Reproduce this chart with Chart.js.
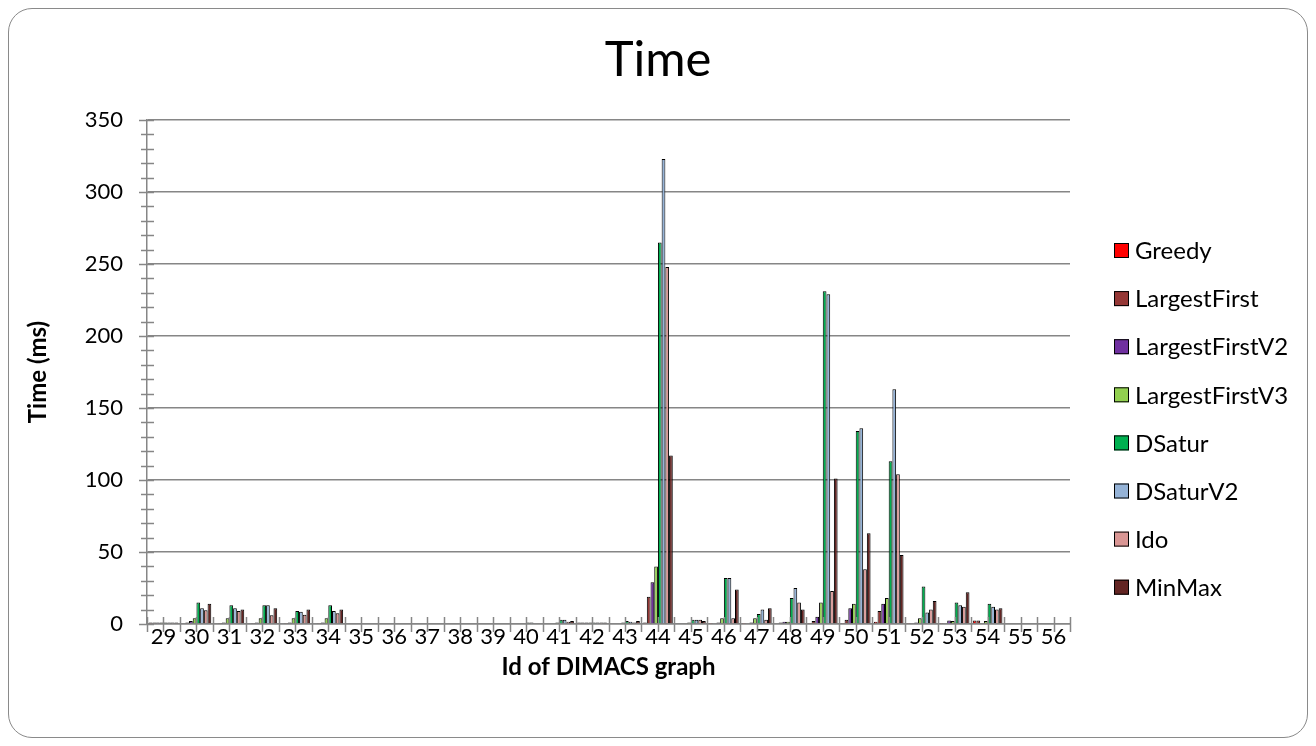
<!DOCTYPE html>
<html>
<head>
<meta charset="utf-8">
<title>Time</title>
<script src="https://cdn.jsdelivr.net/npm/chart.js@4.4.1/dist/chart.umd.min.js"></script>
<style>
    html, body { margin: 0; padding: 0; background: #fff; }
    body { width: 1316px; height: 746px; position: relative; overflow: hidden; }
    .frame {
        position: absolute; left: 8px; top: 8px; width: 1298px; height: 728px;
        border: 1.5px solid #8a8a8a; border-radius: 24px; background: #fff;
    }
    #timeChart { position: absolute; left: 0; top: 0; }
</style>
</head>
<body>
<div class="frame"></div>
<canvas id="timeChart" width="1316" height="746"></canvas>
<script>
// DIMACS graph ids (x categories)
const graphIds = [29, 30, 31, 32, 33, 34, 35, 36, 37, 38, 39, 40, 41, 42,
                  43, 44, 45, 46, 47, 48, 49, 50, 51, 52, 53, 54, 55, 56];

// running time per algorithm, ms
const greedy         = [1, 0.5, 0.5, 0.5, 0.5, 0.5, 0, 0, 0, 0, 0, 0, 0, 1, 0, 1, 0.5, 0.3, 0.3, 0.5, 0.3, 0.3, 1.5, 0.3, 0.3, 2.5, 0, 0];
const largestFirst   = [1, 1, 0.7, 0.7, 0.7, 0.7, 0, 0, 0, 0, 0, 0, 0.5, 1, 0.5, 19, 0.5, 0.5, 0.5, 1, 2, 3, 9, 0.5, 0.5, 2.5, 0, 0];
const largestFirstV2 = [1, 2, 1, 1, 1, 1, 0, 0, 0, 0, 0, 0, 0.5, 1, 0.5, 29, 0.5, 1, 1, 1.5, 5, 11, 14, 1, 2.5, 0.5, 0, 0];
const largestFirstV3 = [1, 4, 4, 4, 4, 4, 0, 0, 0, 0, 0, 0, 1, 1, 1, 40, 1, 4, 4, 1.5, 15, 14, 18, 4, 2, 2, 0, 0];
const dsatur         = [1, 15, 13, 13, 9, 13, 0, 0, 0, 0, 0, 1, 3, 1, 2, 265, 3, 32, 7, 18, 231, 134, 113, 26, 15, 14, 0, 0];
const dsaturV2       = [1, 11, 11, 13, 8.5, 9, 0, 0, 0, 0, 0, 1, 3, 1, 1.5, 323, 3, 32, 10, 25, 229, 136, 163, 8, 13, 12, 0, 0];
const ido            = [1, 9.5, 9, 6, 6.5, 7.5, 0, 0, 0, 0, 0, 0, 1.5, 1, 1, 248, 3, 4, 3, 15, 23, 38, 104, 10, 12, 10, 0, 0];
const minMax         = [1, 14, 10, 11, 10, 10, 0, 0, 0, 0, 0, 0, 2, 1, 2, 117, 2, 24, 11, 10, 101, 63, 48, 16, 22, 11, 0, 0];

const seriesNames  = ['Greedy', 'LargestFirst', 'LargestFirstV2', 'LargestFirstV3', 'DSatur', 'DSaturV2', 'Ido', 'MinMax'];
const seriesValues = [greedy, largestFirst, largestFirstV2, largestFirstV3, dsatur, dsaturV2, ido, minMax];
const seriesColors = ['#FF0000', '#953735', '#7030A0', '#92D050', '#00B050', '#95B3D7', '#DA9694', '#632523'];

const FONT = "Lato, 'Open Sans', sans-serif";
const AXIS_GREY = '#868686';

// tick marks crossing both axes (major + minor on y, half-category on x)
const crossTicks = {
    id: 'crossTicks',
    afterDatasetsDraw(chart) {
        const { ctx, scales: { x, y } } = chart;
        ctx.save();
        ctx.strokeStyle = AXIS_GREY;
        ctx.lineWidth = 1.5;
        ctx.beginPath();
        for (let v = 0; v <= 350; v += 10) {
            const py = Math.round(y.getPixelForValue(v)) + 0.5;
            const major = v % 50 === 0;
            ctx.moveTo(x.left - (major ? 8 : 6), py);
            ctx.lineTo(x.left + 7, py);
        }
        const n = graphIds.length;
        const half = (x.right - x.left) / n / 2;
        for (let k = 0; k <= 2 * n; k++) {
            const px = Math.round(x.left + k * half) + 0.5;
            ctx.moveTo(px, y.bottom - 7);
            ctx.lineTo(px, y.bottom + 8);
        }
        ctx.stroke();
        ctx.restore();
    }
};

// chart title centred on the whole frame, plus the legend column on the right
const frameText = {
    id: 'frameText',
    afterDraw(chart) {
        const { ctx } = chart;
        ctx.save();
        ctx.fillStyle = '#000';
        ctx.font = '49px ' + FONT;
        ctx.textAlign = 'center';
        ctx.textBaseline = 'alphabetic';
        ctx.fillText('Time', 658, 76);

        ctx.textAlign = 'left';
        ctx.font = '24px ' + FONT;
        ctx.textBaseline = 'middle';
        chart.data.datasets.forEach((ds, i) => {
            const cy = 250.5 + i * 48.1;
            ctx.fillStyle = ds.backgroundColor;
            ctx.fillRect(1114, cy - 7.5, 15, 15);
            ctx.strokeStyle = '#000';
            ctx.lineWidth = 1;
            ctx.strokeRect(1114.5, cy - 7, 14, 14);
            ctx.fillStyle = '#000';
            ctx.fillText(ds.label, 1135, cy + 1);
        });
        ctx.restore();
    }
};

new Chart(document.getElementById('timeChart'), {
    type: 'bar',
    data: {
        labels: graphIds,
        datasets: seriesNames.map((name, i) => ({
            label: name,
            data: seriesValues[i],
            backgroundColor: seriesColors[i],
            borderColor: '#000',
            borderWidth: 1,
            categoryPercentage: 0.9,
            barPercentage: 1
        }))
    },
    options: {
        responsive: false,
        animation: false,
        layout: { padding: { top: 120, right: 246, bottom: 0, left: 0 } },
        plugins: {
            legend: { display: false },
            tooltip: { enabled: false },
            title: { display: false }
        },
        scales: {
            x: {
                grid: { display: false },
                border: { color: AXIS_GREY, width: 1.5 },
                ticks: { color: '#000', font: { family: FONT, size: 22 }, padding: -8, maxRotation: 0, autoSkip: false },
                title: {
                    display: true,
                    text: 'Id of DIMACS graph',
                    color: '#000',
                    font: { family: FONT, size: 24, weight: 'bold' },
                    padding: { bottom: 64 }
                },
                afterFit(scale) { scale.height = 122; }
            },
            y: {
                min: 0,
                max: 350,
                border: { color: AXIS_GREY, width: 1.5 },
                grid: {
                    drawTicks: false,
                    lineWidth: 1.5,
                    color: c => (c.tick && c.tick.value % 50 === 0) ? AXIS_GREY : 'rgba(0,0,0,0)'
                },
                ticks: {
                    stepSize: 10,
                    autoSkip: false,
                    padding: 24,
                    color: '#000',
                    font: { family: FONT, size: 22 },
                    callback: v => (v % 50 === 0 ? v : '')
                },
                title: {
                    display: true,
                    text: 'Time (ms)',
                    color: '#000',
                    font: { family: FONT, size: 24, weight: 'bold' },
                    padding: { top: 24 }
                },
                afterFit(scale) { scale.width = 147; }
            }
        }
    },
    plugins: [crossTicks, frameText]
});
</script>
</body>
</html>
